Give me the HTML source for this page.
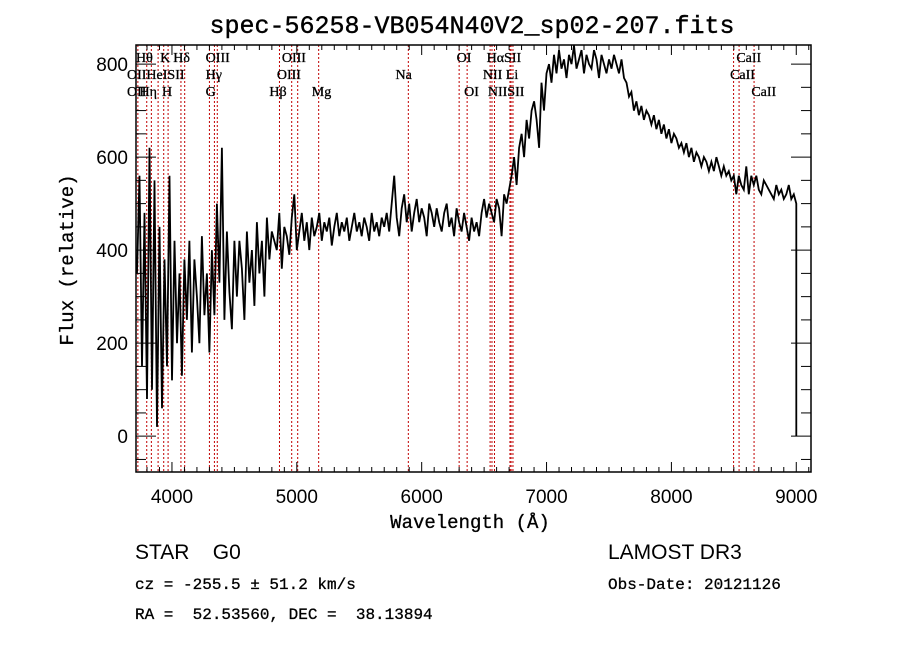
<!DOCTYPE html>
<html><head><meta charset="utf-8">
<style>
body{margin:0;background:#fff;}
svg{display:block;}
.t{font-family:"Liberation Sans",sans-serif;}
.m{font-family:"Liberation Mono",monospace;}
.s{font-family:"Liberation Serif",serif;font-size:14px;}
</style></head><body>
<svg id="chart" width="900" height="649" viewBox="0 0 900 649" xmlns="http://www.w3.org/2000/svg">
<rect width="900" height="649" fill="#fff"/>
<text class="m" x="472" y="33" font-size="25" text-anchor="middle" stroke="#000" stroke-width="0.4">spec-56258-VB054N40V2_sp02-207.fits</text>
<g id="lines"></g>
<g id="labels"></g>
<g id="spec"></g>
<g id="axes"></g>
<text class="m" x="470" y="528" font-size="19" text-anchor="middle" stroke="#000" stroke-width="0.3">Wavelength (Å)</text>
<text class="m" transform="translate(73,260) rotate(-90)" font-size="19" text-anchor="middle" stroke="#000" stroke-width="0.3">Flux (relative)</text>
<text class="t" x="135" y="559" font-size="21" xml:space="preserve">STAR    G0</text>
<text class="t" x="608" y="559" font-size="21">LAMOST DR3</text>
<text class="m" x="135" y="589" font-size="16" stroke="#000" stroke-width="0.3">cz = -255.5 ± 51.2 km/s</text>
<text class="m" x="608" y="589" font-size="16" stroke="#000" stroke-width="0.3">Obs-Date: 20121126</text>
<text class="m" x="135" y="619" font-size="16" xml:space="preserve" stroke="#000" stroke-width="0.3">RA =  52.53560, DEC =  38.13894</text>
</svg>
<script>
const waveStart = 3720;
const waveStep = 20;
const flux = [
350,560,150,480,80,620,100,550,20,450,60,380,150,560,120,420,200,350,130,380,
250,420,180,380,300,200,430,260,350,180,400,260,500,330,620,250,440,310,230,420,
300,420,360,250,440,330,400,280,460,350,420,300,470,380,440,420,400,480,360,450,430,390,470,520,400,
440,480,420,460,400,470,430,450,480,420,460,440,470,410,450,480,430,460,440,470,420,450,480,440,460,430,470,450,420,480,440,460,430,470,450,
480,440,500,560,470,430,490,520,460,500,440,480,510,460,490,470,430,500,480,450,490,460,440,480,500,450,470,430,490,460,440,480,450,420,470,440,460,430,480,510,
470,500,480,460,510,490,430,520,500,530,
560,600,540,620,650,600,680,640,700,720,680,620,760,700,780,
800,760,820,780,830,790,810,770,820,800,840,790,810,830,780,820,800,790,830,810,770,820,800,780,810,790,820,800,780,810,
770,760,730,740,700,720,690,710,680,700,690,670,690,660,680,650,670,640,660,630,
650,640,620,630,610,630,600,620,590,610,600,580,600,590,570,590,570,600,580,560,580,560,570,550,560,
520,560,540,530,580,520,560,540,560,530,520,550,540,530,520,510,540,520,530,510,520,540,510,520,500,
0];
const lineWaves = [3727,3798,3835,3889,3934,3969,4072,4102,4300,4340,4363,4861,4959,5007,5175,5893,6300,6364,6548,6563,6583,6707,6716,6731,8498,8542,8662];
const labelTexts = ["Hθ","K","Hδ","OIII","OIII","OI","HαSII","CaII","OIIHeISII","Hγ","OIII","Na","NII Li","CaII","OII","Hη","H","G","Hβ","Mg","OI","NIISII","CaII"];
const labelWaves = [3712,3905,4010,4270,4880,6280,6520,8520,3640,4270,4840,5790,6490,8470,3640,3740,3920,4270,4780,5120,6340,6530,8640];
const labelRows = [1,1,1,1,1,1,1,1,2,2,2,2,2,2,3,3,3,3,3,3,3,3,3];
const xTicks = [4000,5000,6000,7000,8000,9000];
const yTicks = [0,200,400,600,800];

const X0=136,X1=811,Y0=45,Y1=472, wMin=3712, wMax=9118, fMin=-77, fMax=841;
const xs = w => X0+(w-wMin)/(wMax-wMin)*(X1-X0);
const ys = f => Y1-(f-fMin)/(fMax-fMin)*(Y1-Y0);
const NS="http://www.w3.org/2000/svg";
function mk(tag,attrs,parent){const e=document.createElementNS(NS,tag);for(const k in attrs)e.setAttribute(k,attrs[k]);parent.appendChild(e);return e;}

const gl=document.getElementById('lines');
lineWaves.forEach(w=>{
  const l=mk('line',{x1:xs(w),x2:xs(w),y1:Y0,y2:Y1,stroke:'#c00000','stroke-width':1,'stroke-dasharray':'2,2'},gl);
  
  
});
const glab=document.getElementById('labels');
labelTexts.forEach((t,i)=>{
  const e=mk('text',{x:xs(labelWaves[i]),y:Y0+17+(labelRows[i]-1)*17,class:'s',stroke:'#000','stroke-width':0.3},glab);
  e.textContent=t;
  
  
});
const gs=document.getElementById('spec');
let d='';
flux.forEach((f,i)=>{const w=waveStart+i*waveStep;const x=Math.min(xs(w),xs(9000));d+=(i?'L':'M')+x.toFixed(1)+','+ys(f).toFixed(1);});
const p=mk('path',{d:d,fill:'none',stroke:'#000','stroke-width':1.8,'stroke-linejoin':'miter'},gs);



const ga=document.getElementById('axes');
const fr=mk('rect',{x:X0,y:Y0,width:X1-X0,height:Y1-Y0,fill:'none',stroke:'#000','stroke-width':1.5},ga);


for(let w=3800;w<=9100;w+=100){
  const major=w%1000===0, h=major?10:5;
  mk('line',{x1:xs(w),x2:xs(w),y1:Y1,y2:Y1-h,stroke:'#000'},ga);
  mk('line',{x1:xs(w),x2:xs(w),y1:Y0,y2:Y0+h,stroke:'#000'},ga);
}
for(let f=-50;f<=800;f+=50){
  const major=f%200===0, h=major?20:10;
  mk('line',{x1:X0,x2:X0+h,y1:ys(f),y2:ys(f),stroke:'#000'},ga);
  mk('line',{x1:X1,x2:X1-h,y1:ys(f),y2:ys(f),stroke:'#000'},ga);
}
xTicks.forEach(w=>{
  const t=mk('text',{x:xs(w),y:503,'font-size':19,'text-anchor':'middle',class:'t'},ga);
  t.textContent=w;
  
  
});
yTicks.forEach(f=>{
  const t=mk('text',{x:128,y:ys(f)+7,'font-size':19,'text-anchor':'end',class:'t'},ga);
  t.textContent=f;
  
  
});
</script>
</body></html>
